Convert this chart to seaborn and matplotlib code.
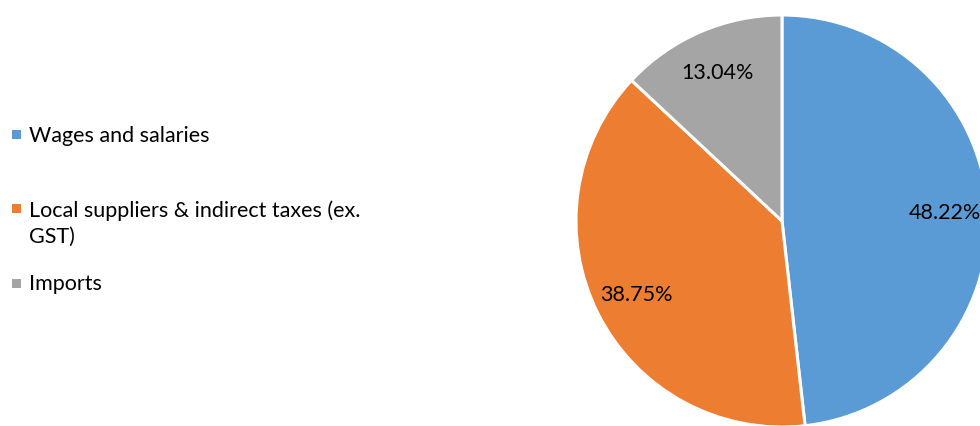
import matplotlib
matplotlib.use("Agg")
import matplotlib.pyplot as plt
import seaborn as sns
from matplotlib.patches import Rectangle

categories = ["Wages and salaries",
              "Local suppliers & indirect taxes (ex. GST)",
              "Imports"]
display_labels = ["Wages and salaries",
                  "Local suppliers & indirect taxes (ex.\nGST)",
                  "Imports"]
values = [48.22, 38.75, 13.04]
colors = ["#5B9BD5", "#ED7D31", "#A5A5A5"]

sns.set_theme(style="white")
plt.rcParams['font.family'] = ['Lato', 'DejaVu Sans']

W, H = 980, 427
fig = plt.figure(figsize=(W / 100, H / 100), dpi=100)
fig.patch.set_facecolor("white")

cx, cy, r = 782, 222, 206
ax = fig.add_axes([(cx - r) / W, (H - cy - r) / H, 2 * r / W, 2 * r / H])
wedges, texts, autotexts = ax.pie(
    values, colors=sns.color_palette(colors), startangle=90, counterclock=False,
    autopct=lambda p: f"{p:.2f}%", pctdistance=0.79,
    wedgeprops=dict(edgecolor="white", linewidth=2.2),
    textprops=dict(fontsize=15.5, color="black"))
ax.set_xlim(-1, 1)
ax.set_ylim(-1, 1)
ax.axis("off")

# legend (manual, to reproduce uneven spacing)
top_lines = [126, 200, 274]
marker_centers = [135, 209, 284]
for lab, col, yt, ym in zip(display_labels, colors, top_lines, marker_centers):
    fig.patches.append(Rectangle(((12) / W, (H - ym - 4.5) / H), 9 / W, 9 / H,
                                 transform=fig.transFigure, facecolor=col,
                                 edgecolor="none"))
    fig.text(29 / W, (H - yt) / H, lab, fontsize=15.5, color="black",
             va="top", ha="left", linespacing=1.42)

fig.savefig("out.png", dpi=100, facecolor="white")
